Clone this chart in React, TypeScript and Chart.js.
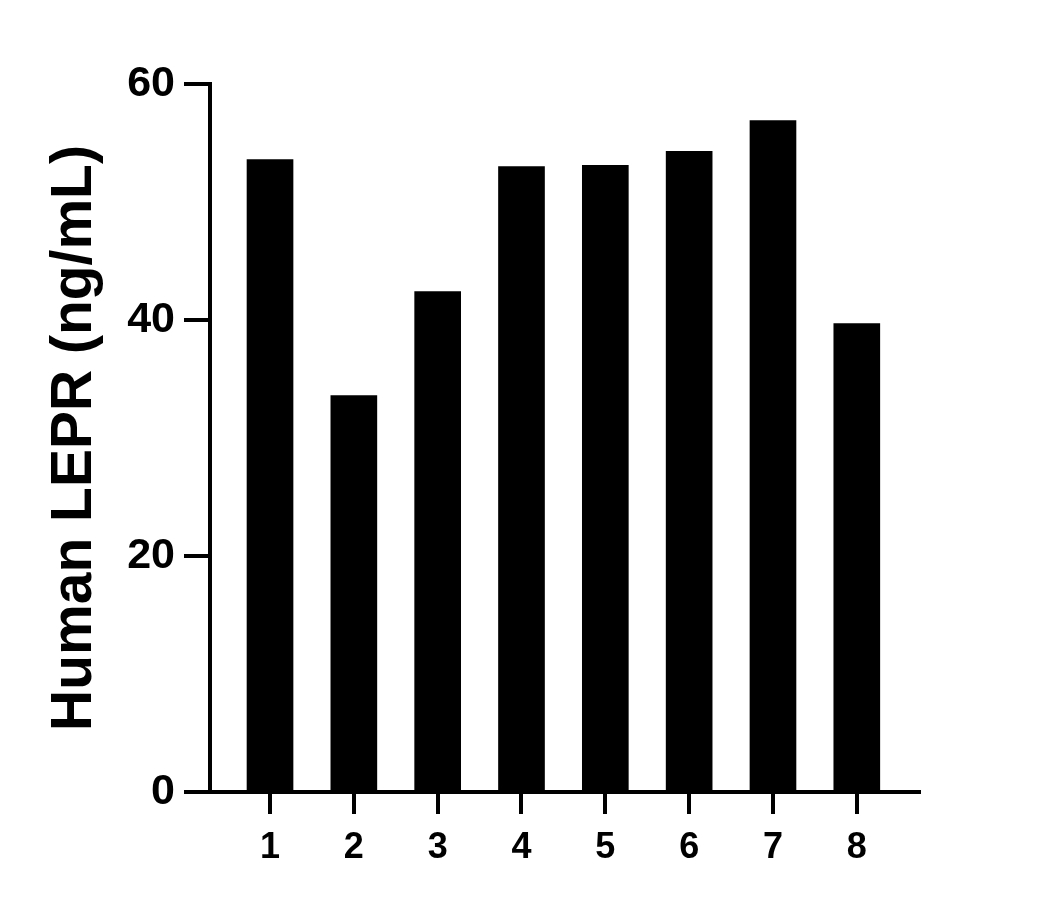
import React, { useEffect, useRef } from "react";
import { Chart, registerables } from "chart.js";

Chart.register(...registerables);

const categories = ["1", "2", "3", "4", "5", "6", "7", "8"];
const values = [53.6, 33.6, 42.4, 53.0, 53.1, 54.3, 56.9, 39.7];
const yTicks = [0, 20, 40, 60];
const yTitle = "Human LEPR (ng/mL)";

const FONT = "'Liberation Sans', Arial, sans-serif";

export default function App() {
  const ref = useRef<HTMLCanvasElement | null>(null);

  useEffect(() => {
    if (!ref.current) return;
    const chart = new Chart(ref.current, {
      type: "bar",
      data: {
        datasets: [
          {
            data: categories.map((c, i) => ({ x: Number(c), y: values[i] })),
            backgroundColor: "#000000",
            borderWidth: 0,
            barThickness: 46,
          },
        ],
      },
      options: {
        animation: false,
        responsive: false,
        maintainAspectRatio: false,
        layout: { padding: { top: 84, right: 136, left: 0, bottom: 0 } },
        plugins: { legend: { display: false }, tooltip: { enabled: false } },
        scales: {
          x: {
            type: "linear",
            offset: false,
            min: 0.284,
            max: 8.742,
            afterBuildTicks: (scale: any) => {
              scale.ticks = categories.map((c) => ({ value: Number(c) }));
            },
            afterFit: (scale: any) => {
              scale.height = 116;
            },
            border: { display: true, color: "#000", width: 4 },
            grid: {
              offset: false,
              drawOnChartArea: false,
              drawTicks: true,
              tickLength: 22,
              color: "#000",
              lineWidth: 4,
            },
            ticks: {
              color: "#000",
              padding: 12,
              maxRotation: 0,
              autoSkip: false,
              font: { family: FONT, size: 36, weight: "bold" },
              callback: (v: any) => String(v),
            },
          },
          y: {
            type: "linear",
            min: 0,
            max: 60,
            afterBuildTicks: (scale: any) => {
              scale.ticks = yTicks.map((v) => ({ value: v }));
            },
            afterFit: (scale: any) => {
              scale.width = 210;
            },
            border: { display: true, color: "#000", width: 4 },
            grid: {
              drawOnChartArea: false,
              drawTicks: true,
              tickLength: 26,
              color: "#000",
              lineWidth: 4,
            },
            ticks: {
              color: "#000",
              padding: 9,
              font: { family: FONT, size: 43, weight: "bold" },
              callback: (v: any) => String(v),
            },
            title: {
              display: true,
              text: yTitle,
              color: "#000",
              padding: { top: 41, bottom: 0 },
              font: { family: FONT, size: 57, weight: "bold" },
            },
          },
        },
      },
    } as any);
    return () => chart.destroy();
  }, []);

  return (
    <div style={{ position: "absolute", left: 0, top: 0, width: 1055, height: 908, background: "#fff" }}>
      <canvas ref={ref} width={1055} height={908} style={{ width: 1055, height: 908 }} />
    </div>
  );
}
